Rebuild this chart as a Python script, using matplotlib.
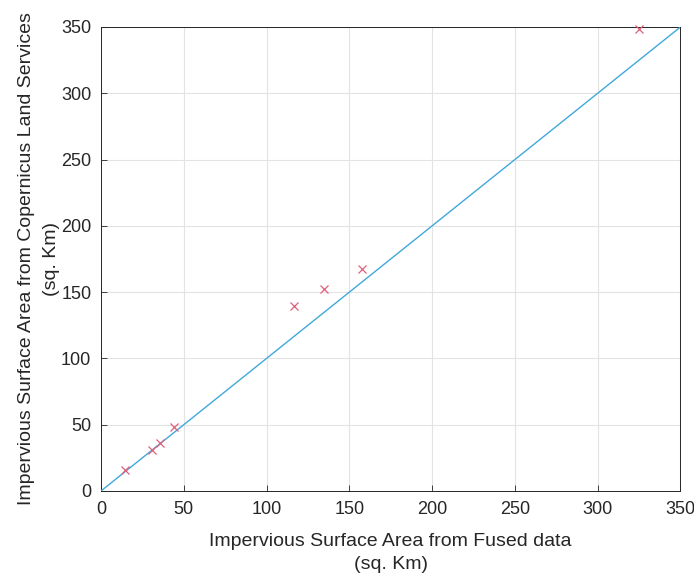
import numpy as np
import matplotlib
matplotlib.use("Agg")
import matplotlib.pyplot as plt

plt.rcParams["font.family"] = ["Liberation Sans", "DejaVu Sans"]

# --- data ---
fused_km2 = [14.5, 30.8, 35.7, 44.1, 116.7, 134.8, 157.8, 324.7]
copernicus_km2 = [15.8, 30.9, 36.2, 48.3, 139.5, 152.3, 167.4, 348.4]
ref_line = [0, 350]
ticks = [0, 50, 100, 150, 200, 250, 300, 350]

fig = plt.figure(figsize=(6.94, 5.74), dpi=100)
ax = fig.add_axes([0.1455, 0.1446, 0.8350, 0.8084])

ax.plot(ref_line, ref_line, color="#3fa9d9", linewidth=1.0, zorder=3)
ax.plot(fused_km2, copernicus_km2, linestyle="none", marker="x",
        markersize=6, markeredgewidth=0.9, color="#e0607a", zorder=4,
        clip_on=False)

ax.set_xlim(0, 350)
ax.set_ylim(0, 350)
ax.set_xticks(ticks)
ax.set_yticks(ticks)
ax.grid(True, color="#e3e3e3", linewidth=0.8)
ax.set_axisbelow(True)
ax.tick_params(direction="in", length=4, width=0.6, colors="#262626",
               labelsize=13, pad=7)
for sp in ax.spines.values():
    sp.set_color("#262626")
    sp.set_linewidth(0.7)

ax.set_xlabel("Impervious Surface Area from Fused data\n(sq. Km)",
              fontsize=14, color="#262626", labelpad=11, linespacing=1.45)
ax.set_ylabel("Impervious Surface Area from Copernicus Land Services\n(sq. Km)",
              fontsize=14, color="#262626", labelpad=1, linespacing=1.6)

fig.savefig("out.png", dpi=100)
